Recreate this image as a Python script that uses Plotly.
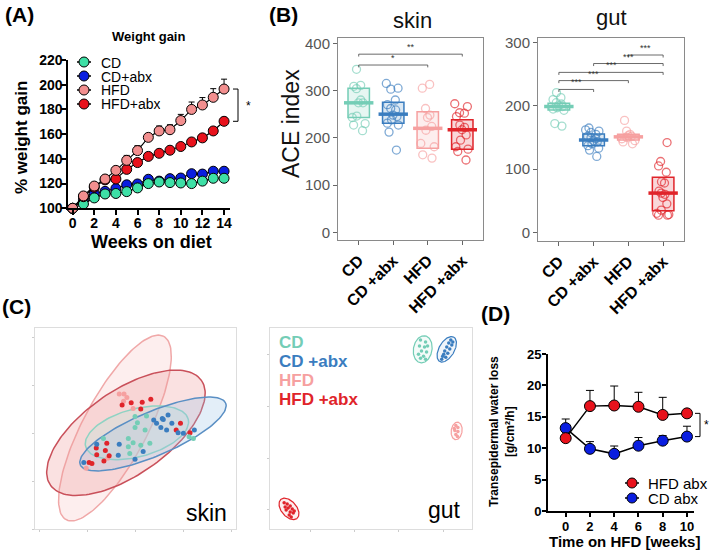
import numpy as np
import plotly.graph_objects as go

FONT = "Liberation Sans, Arial, sans-serif"

# ---------------- Panel A data ----------------
weeks = list(range(15))
a_CD = [100, 103.5, 108.4, 111.6, 112, 113.5, 116.5, 120, 121.3, 120.8, 120.5, 120, 122, 124.3, 124.3]
a_CD_err = [0, 1, 1, 1, 1, 1, 1, 1, 1, 1, 1, 1, 1, 1, 1]
a_CDabx = [100, 107, 112, 113.7, 116, 119, 119.7, 123.5, 122, 124, 124.5, 128, 127.7, 130, 130]
a_CDabx_err = [0, 1, 1, 1, 1, 1, 1, 1.5, 1.5, 1.5, 1.5, 2, 2, 2, 2]
a_HFD = [100, 110, 118, 123.7, 130.7, 138.8, 146.7, 157.4, 162.6, 163.6, 171, 180, 183.6, 189.8, 196.5]
a_HFD_err = [0, 1.5, 2, 2, 2.5, 4, 4, 3, 4, 4, 5, 6, 6, 7, 8]
a_HFDabx = [100, 109.4, 117, 123, 123.7, 131.5, 137, 142, 144.5, 147, 150, 153.7, 157, 162.6, 170.4]
a_HFDabx_err = [0, 1, 1, 1, 1, 1.5, 1.5, 1.5, 1.5, 1.5, 1.5, 2, 2, 2, 3]
a_names = ["CD", "CD+abx", "HFD", "HFD+abx"]

# ---------------- Panel B data ----------------
groups = ["CD", "CD +abx", "HFD", "HFD +abx"]
skin_vals = [
    [345, 311, 309, 304, 280, 274, 274, 246, 243, 230, 227, 215],
    [315, 305, 303, 280, 270, 262, 259, 248, 245, 238, 231, 227, 212, 174],
    [313, 305, 262, 248, 243, 224, 216, 188, 181, 164, 157],
    [272, 266, 253, 252, 245, 227, 222, 217, 206, 195, 181, 176, 171, 153],
]
skin_q1 = [243, 231, 178, 176]
skin_med = [274, 250, 220, 217]
skin_q3 = [305, 275, 255, 238]
gut_vals = [
    [221, 213, 210, 205, 203, 200, 199, 197, 195, 193, 172, 168],
    [165, 162, 160, 158, 155, 152, 150, 148, 145, 143, 140, 137, 133, 130, 120],
    [177, 160, 155, 153, 152, 150, 148, 145, 143, 140],
    [142, 112, 105, 95, 80, 78, 65, 62, 60, 55, 45, 35, 30, 28, 27, 27],
]
gut_q1 = [193.5, 137, 146, 34]
gut_med = [199, 146, 151, 62]
gut_q3 = [204, 155.5, 155, 87]
skin_sig = [(1, 3, 354, "*"), (1, 4, 377, "**")]
gut_sig = [(1, 2, 226, "***"), (1, 3, 240, "***"), (1, 4, 253, "***"),
           (2, 4, 267, "***"), (3, 4, 280.5, "***")]

# ---------------- Panel C data ----------------
# ellipse params: cx, cy, semi-major, semi-minor, angle(deg)
skin_ell = {
    "HFD": (-0.43, 0.01, 2.17, 0.67, 62),
    "HFD +abx": (-0.20, -0.09, 1.92, 0.88, 34.7),
    "CD": (0.03, -0.09, 1.11, 0.50, 15),
    "CD +abx": (0.365, -0.115, 1.65, 0.46, 23),
}
skin_pts = {
    "HFD +abx": ([-0.28, -0.09, 0.14, 0.32, 0.11, 0.94, 0.85, -0.60, -0.82, -0.63, -0.81, -0.55, -0.66, -0.97, -0.91, 1.14],
                 [0.49, 0.54, 0.55, 0.61, 0.41, 0.11, -0.03, -0.31, -0.41, -0.46, -0.55, -0.57, -0.68, -0.71, -0.73, -0.09]),
    "HFD": ([-0.34, -0.24, -0.18, -0.25, -0.05, -1.03, -0.58],
            [0.72, 0.72, 0.65, 0.57, 0.42, -0.83, -0.62]),
    "CD +abx": ([-0.81, -0.34, -0.36, -0.01, 0.16, 0.38, 0.56, 0.58, 0.68, 0.44, 0.53, 0.65, 0.76, 0.89, 1.00, 1.23, -1.08],
                [-0.33, -0.33, -0.56, -0.64, -0.48, 0.18, 0.21, 0.19, 0.28, 0.11, 0.02, -0.03, 0.11, -0.09, -0.10, -0.03, -0.71]),
    "CD": ([-0.01, 0.23, 0.04, -0.01, 0.20, -0.67, -0.15, -0.05, -0.15, 0.11, 0.30, -0.12, 1.12, 1.21],
           [0.25, 0.26, 0.12, 0.02, -0.03, -0.21, -0.21, -0.30, -0.38, -0.35, -0.31, -0.52, -0.17, -0.21]),
}
gut_ell = {
    "CD": (7.56, 8.94, 0.68, 0.46, 80),
    "CD +abx": (8.75, 8.94, 0.70, 0.38, 60),
    "HFD": (9.24, 4.88, 0.44, 0.27, 82),
    "HFD +abx": (0.94, 1.0, 0.62, 0.38, -50),
}
gut_pts = {
    "CD": ([7.45, 7.7, 7.4, 7.65, 7.5, 7.75, 7.35, 7.6, 7.7, 7.45, 7.8],
           [9.4, 9.3, 9.1, 9.05, 8.85, 8.8, 8.7, 8.6, 8.45, 8.5, 9.1]),
    "CD +abx": ([8.95, 8.85, 9.0, 8.75, 8.9, 8.65, 8.8, 8.55, 8.7, 8.5, 9.05, 8.6],
                [9.4, 9.25, 9.15, 9.05, 8.95, 8.85, 8.75, 8.6, 8.55, 8.45, 9.3, 8.7]),
    "HFD": ([9.2, 9.3, 9.15, 9.3, 9.2, 9.28, 9.12],
            [5.15, 5.05, 4.9, 4.85, 4.7, 4.6, 5.0]),
    "HFD +abx": ([0.7, 0.85, 1.0, 0.75, 0.9, 1.1, 0.8, 1.0, 1.15, 0.95, 1.05, 1.2],
                 [1.3, 1.25, 1.15, 1.1, 1.05, 1.0, 0.95, 0.85, 0.8, 0.7, 0.6, 0.9]),
}

# ---------------- Panel D data ----------------
d_weeks = [0, 2, 4, 6, 8, 10]
d_HFD = [11.6, 16.7, 16.8, 16.6, 15.3, 15.55]
d_HFD_err = [0.3, 2.5, 3.1, 2.3, 2.8, 0.3]
d_CD = [13.2, 9.9, 9.1, 10.4, 11.2, 11.85]
d_CD_err = [1.45, 1.15, 1.25, 1.3, 0.8, 1.65]
d_names = ["HFD abx", "CD abx"]

# ---------------- colours ----------------
colA = {"CD": "#3ee0a6", "CD+abx": "#0a1ee0", "HFD": "#f28f8f", "HFD+abx": "#e8121c"}
colB = {"CD": "#74cdb6", "CD +abx": "#3a7dbf", "HFD": "#f6a0a0", "HFD +abx": "#e0242a"}
colD = {"HFD abx": "#e8121c", "CD abx": "#0a1ee0"}

def rgba(hexc, a):
    h = hexc.lstrip("#")
    r, g, b = int(h[0:2], 16), int(h[2:4], 16), int(h[4:6], 16)
    return f"rgba({r},{g},{b},{a})"

def px2x(p):
    return p / 709

def px2y(p):
    return 1 - p / 557

fig = go.Figure()

# ---------- Panel A traces ----------
orderA = [("CD+abx", a_CDabx, a_CDabx_err), ("CD", a_CD, a_CD_err),
          ("HFD+abx", a_HFDabx, a_HFDabx_err), ("HFD", a_HFD, a_HFD_err)]
for name, ys, err in orderA:
    fig.add_trace(go.Scatter(
        x=weeks, y=ys, name=name, mode="lines+markers", xaxis="x", yaxis="y",
        line=dict(color="black", width=1.2),
        marker=dict(size=10, color=colA[name], line=dict(color="black", width=1)),
        error_y=dict(type="data", symmetric=False, array=err, arrayminus=[0] * len(err),
                     color="black", thickness=1, width=3),
        cliponaxis=False, showlegend=False))

# ---------- Panel B traces ----------
for (ax, vals, q1, med, q3) in [("2", skin_vals, skin_q1, skin_med, skin_q3),
                                 ("3", gut_vals, gut_q1, gut_med, gut_q3)]:
    for k, g in enumerate(groups):
        c = colB[g]
        fig.add_trace(go.Box(
            x=[k + 1], q1=[q1[k]], median=[med[k]], q3=[q3[k]],
            lowerfence=[q1[k]], upperfence=[q3[k]], width=0.62, whiskerwidth=0,
            line=dict(color=c, width=1.5), fillcolor=rgba(c, 0.18),
            xaxis="x" + ax, yaxis="y" + ax, showlegend=False, hoverinfo="skip"))
        fig.add_trace(go.Scatter(
            x=[k + 1], y=[med[k]], mode="markers", xaxis="x" + ax, yaxis="y" + ax,
            marker=dict(symbol="line-ew-open", size=21, color=c, line=dict(color=c, width=3.5)),
            showlegend=False, hoverinfo="skip"))
        fig.add_trace(go.Box(
            x=[k + 1] * len(vals[k]), y=vals[k], boxpoints="all", jitter=0.8, pointpos=0,
            width=0.6, line=dict(width=0, color="rgba(0,0,0,0)"), fillcolor="rgba(0,0,0,0)",
            marker=dict(symbol="circle-open", size=8, color=rgba(c, 0.65),
                        line=dict(width=1.3, color=rgba(c, 0.65))),
            xaxis="x" + ax, yaxis="y" + ax, showlegend=False, hoverinfo="skip"))

# ---------- Panel C traces ----------
def ellipse(cx, cy, a, b, ang):
    t = np.linspace(0, 2 * np.pi, 150)
    th = np.radians(ang)
    x = cx + a * np.cos(t) * np.cos(th) - b * np.sin(t) * np.sin(th)
    y = cy + a * np.cos(t) * np.sin(th) + b * np.sin(t) * np.cos(th)
    return x, y

ell_line = {"CD": "#8fd3c3", "CD +abx": "#5a8fc4", "HFD": "#f0a8a8", "HFD +abx": "#c9505a"}
ell_fill = {"CD": rgba("#bfe8dd", 0.35), "CD +abx": rgba("#9cc3e6", 0.28),
            "HFD": rgba("#f9c8c8", 0.30), "HFD +abx": rgba("#ee9a9a", 0.30)}
for g in ["HFD", "HFD +abx", "CD", "CD +abx"]:
    ex, ey = ellipse(*skin_ell[g])
    fig.add_trace(go.Scatter(x=ex, y=ey, mode="lines", fill="toself", fillcolor=ell_fill[g],
                             line=dict(color=ell_line[g], width=1.5), xaxis="x4", yaxis="y4",
                             showlegend=False, hoverinfo="skip"))
for g in ["HFD", "HFD +abx", "CD", "CD +abx"]:
    xs, ys = skin_pts[g]
    fig.add_trace(go.Scatter(x=xs, y=ys, mode="markers", xaxis="x4", yaxis="y4",
                             marker=dict(size=5, color=colB[g]), showlegend=False, hoverinfo="skip"))
for g in groups:
    ex, ey = ellipse(*gut_ell[g])
    fig.add_trace(go.Scatter(x=ex, y=ey, mode="lines", fill="toself", fillcolor=rgba(colB[g], 0.08),
                             line=dict(color=colB[g], width=1.2), xaxis="x5", yaxis="y5",
                             showlegend=False, hoverinfo="skip"))
    xs, ys = gut_pts[g]
    fig.add_trace(go.Scatter(x=xs, y=ys, mode="markers", xaxis="x5", yaxis="y5",
                             marker=dict(size=3.5, color=colB[g]), showlegend=False, hoverinfo="skip"))

# ---------- Panel D traces ----------
for name, ys, err in [("CD abx", d_CD, d_CD_err), ("HFD abx", d_HFD, d_HFD_err)]:
    fig.add_trace(go.Scatter(
        x=d_weeks, y=ys, name=name, mode="lines+markers", xaxis="x6", yaxis="y6",
        line=dict(color="black", width=1.5),
        marker=dict(size=11, color=colD[name], line=dict(color="black", width=1)),
        error_y=dict(type="data", symmetric=False, array=err, arrayminus=[0] * len(err),
                     color="black", thickness=1, width=4),
        cliponaxis=False, showlegend=False))

# ---------- axes ----------
blk = dict(showline=True, linecolor="black", linewidth=2, ticks="outside", ticklen=5,
           tickwidth=2, tickcolor="black", showgrid=False, zeroline=False, automargin=False,
           ticklabelstandoff=-4,
           tickfont=dict(family=FONT, size=14, color="black", weight="bold"))
blkD = {**blk, "ticklen": 4, "ticklabelstandoff": -2,
        "tickfont": dict(family=FONT, size=13, color="black", weight="bold")}
gg = dict(showline=True, mirror=True, linecolor="#8a8a8a", linewidth=1, ticks="outside",
          ticklen=4, tickcolor="#666", showgrid=False, zeroline=False, automargin=False)
lg = dict(showline=True, mirror=True, linecolor="#dddddd", linewidth=1, ticks="outside",
          ticklen=2, tickcolor="#cccccc", showgrid=False, zeroline=False, showticklabels=False,
          automargin=False)
btick = dict(family=FONT, size=16, color="black", weight="bold")

layout = dict(
    width=709, height=557, margin=dict(l=0, r=0, t=0, b=0, pad=0, autoexpand=False),
    paper_bgcolor="white", plot_bgcolor="white", boxmode="overlay", showlegend=False,
    font=dict(family=FONT, color="black"),
    xaxis=dict(domain=[px2x(68.3), px2x(230)], range=[-0.4, 14.55], anchor="y",
               tickvals=list(range(0, 15, 2)), **blk),
    yaxis=dict(domain=[px2y(208.3), px2y(60)], range=[100, 220], anchor="x",
               tickvals=list(range(100, 221, 20)), **blk),
    xaxis2=dict(domain=[px2x(338), px2x(483)], range=[0.4, 4.6], anchor="y2",
                tickvals=[1, 2, 3, 4], ticktext=groups, tickangle=-45, tickfont=btick, **gg),
    yaxis2=dict(domain=[px2y(240), px2y(38)], range=[-16.3, 411.2], anchor="x2",
                tickvals=[0, 100, 200, 300, 400],
                tickfont=dict(family=FONT, size=15, color="#555"), **gg),
    xaxis3=dict(domain=[px2x(538), px2x(684)], range=[0.4, 4.6], anchor="y3",
                tickvals=[1, 2, 3, 4], ticktext=groups, tickangle=-45, tickfont=btick, **gg),
    yaxis3=dict(domain=[px2y(241), px2y(38)], range=[-13.8, 307.4], anchor="x3",
                tickvals=[0, 100, 200, 300],
                tickfont=dict(family=FONT, size=15, color="#555"), **gg),
    xaxis4=dict(domain=[px2x(35), px2x(236)], range=[-2.1, 2.1], anchor="y4",
                tickvals=[-2, -1, 0, 1, 2], **lg),
    yaxis4=dict(domain=[px2y(529), px2y(328)], range=[-2.1, 2.1], anchor="x4",
                tickvals=[-2.1, -1.1, -0.1, 0.9, 1.9], **lg),
    xaxis5=dict(domain=[px2x(270), px2x(472)], range=[0, 10], anchor="y5",
                tickvals=[1.98, 4.16, 6.34, 8.58], **lg),
    yaxis5=dict(domain=[px2y(529), px2y(328)], range=[0, 10], anchor="x5",
                tickvals=[0.95, 3.53, 6.07, 8.7], **lg),
    xaxis6=dict(domain=[px2x(548), px2x(694)], range=[-1.46, 10.58], anchor="y6",
                tickvals=d_weeks, **blkD),
    yaxis6=dict(domain=[px2y(511), px2y(354)], range=[0, 25], anchor="x6",
                tickvals=[0, 5, 10, 15, 20, 25], **blkD),
)
fig.update_layout(**layout)

ann = []
def A(text, x, y, size, xanchor="center", yanchor="middle", bold=False, color="black",
      angle=0, xref="paper", yref="paper", height=None):
    d = dict(text=text, x=x, y=y, xref=xref, yref=yref, showarrow=False,
             xanchor=xanchor, yanchor=yanchor, textangle=angle,
             font=dict(family=FONT, size=size, color=color,
                       weight="bold" if bold else "normal"))
    if height is not None:
        d["height"] = height
    ann.append(d)

shapes = []
def L(x0, y0, x1, y1, xref, yref, color="black", w=1):
    shapes.append(dict(type="line", x0=x0, y0=y0, x1=x1, y1=y1, xref=xref, yref=yref,
                       line=dict(color=color, width=w)))

def legend_key(cx, cy, half, r, fill, label, tx, size, h):
    L(px2x(cx - half), px2y(cy), px2x(cx + half), px2y(cy), "paper", "paper", w=1.5)
    shapes.append(dict(type="circle", xref="paper", yref="paper", xsizemode="pixel",
                       ysizemode="pixel", xanchor=px2x(cx), yanchor=px2y(cy),
                       x0=-r, x1=r, y0=-r, y1=r, fillcolor=fill,
                       line=dict(color="black", width=1)))
    A(label, px2x(tx), px2y(cy), size, xanchor="left", height=h)

A("(A)", px2x(3), px2y(15), 21, xanchor="left", bold=True)
A("(B)", px2x(267), px2y(15), 21, xanchor="left", bold=True)
A("(C)", px2x(0), px2y(306), 21, xanchor="left", bold=True)
A("(D)", px2x(479), px2y(313), 21, xanchor="left", bold=True)
A("Weight gain", px2x(148), px2y(37), 13, bold=True)
A("% weight gain", px2x(22), px2y(138), 17, bold=True, angle=-90)
A("Weeks on diet", px2x(151), px2y(242), 18, bold=True)
A("*", px2x(248), 183, 12, xref="paper", yref="y")
for i, nm in enumerate(a_names):
    legend_key(84, [62, 76, 90, 104][i], 7, 5, colA[nm], nm, 99, 14, 13)
A("skin", px2x(412), px2y(20), 22, color="#111")
A("gut", px2x(611), px2y(18), 22, color="#111")
A("ACE index", px2x(291), px2y(124), 23, angle=-90, color="#111")
A("skin", px2x(229), px2y(513), 23, xanchor="right")
A("gut", px2x(463), px2y(510), 23, xanchor="right")
for i, g in enumerate(groups):
    A(g, px2x(277), px2y([342, 361, 380, 399][i]), 17, xanchor="left", bold=True, color=colB[g])
A("Transepidermal water loss<br>[g/cm²/h]", px2x(502), px2y(432), 12, bold=True, angle=-90)
A("Time on HFD [weeks]", px2x(624), px2y(541), 15, bold=True)
A("*", px2x(706), 13.7, 12, xref="paper", yref="y6")
for i, nm in enumerate(d_names):
    legend_key(632, [483, 498][i], 7, 5, colD[nm], nm, 646, 15, 14)

# A bracket
L(px2x(238), a_HFDabx[-1], px2x(238), a_HFD[-1], "paper", "y")
L(px2x(233), a_HFDabx[-1], px2x(238), a_HFDabx[-1], "paper", "y")
L(px2x(233), a_HFD[-1], px2x(238), a_HFD[-1], "paper", "y")
# D bracket
L(px2x(700), d_CD[-1], px2x(700), d_HFD[-1], "paper", "y6")
L(px2x(695), d_CD[-1], px2x(700), d_CD[-1], "paper", "y6")
L(px2x(695), d_HFD[-1], px2x(700), d_HFD[-1], "paper", "y6")

# B significance bars
for ax, sig, tick in [("2", skin_sig, 5), ("3", gut_sig, 4)]:
    for (i0, i1, yv, st) in sig:
        L(i0, yv, i1, yv, "x" + ax, "y" + ax, color="#444", w=0.8)
        L(i0, yv, i0, yv - tick, "x" + ax, "y" + ax, color="#444", w=0.8)
        L(i1, yv, i1, yv - tick, "x" + ax, "y" + ax, color="#444", w=0.8)
        A(st, (i0 + i1) / 2, yv, 9, yanchor="bottom", color="#333", xref="x" + ax, yref="y" + ax)

fig.update_layout(annotations=ann, shapes=shapes)
fig.write_html("out.html")
